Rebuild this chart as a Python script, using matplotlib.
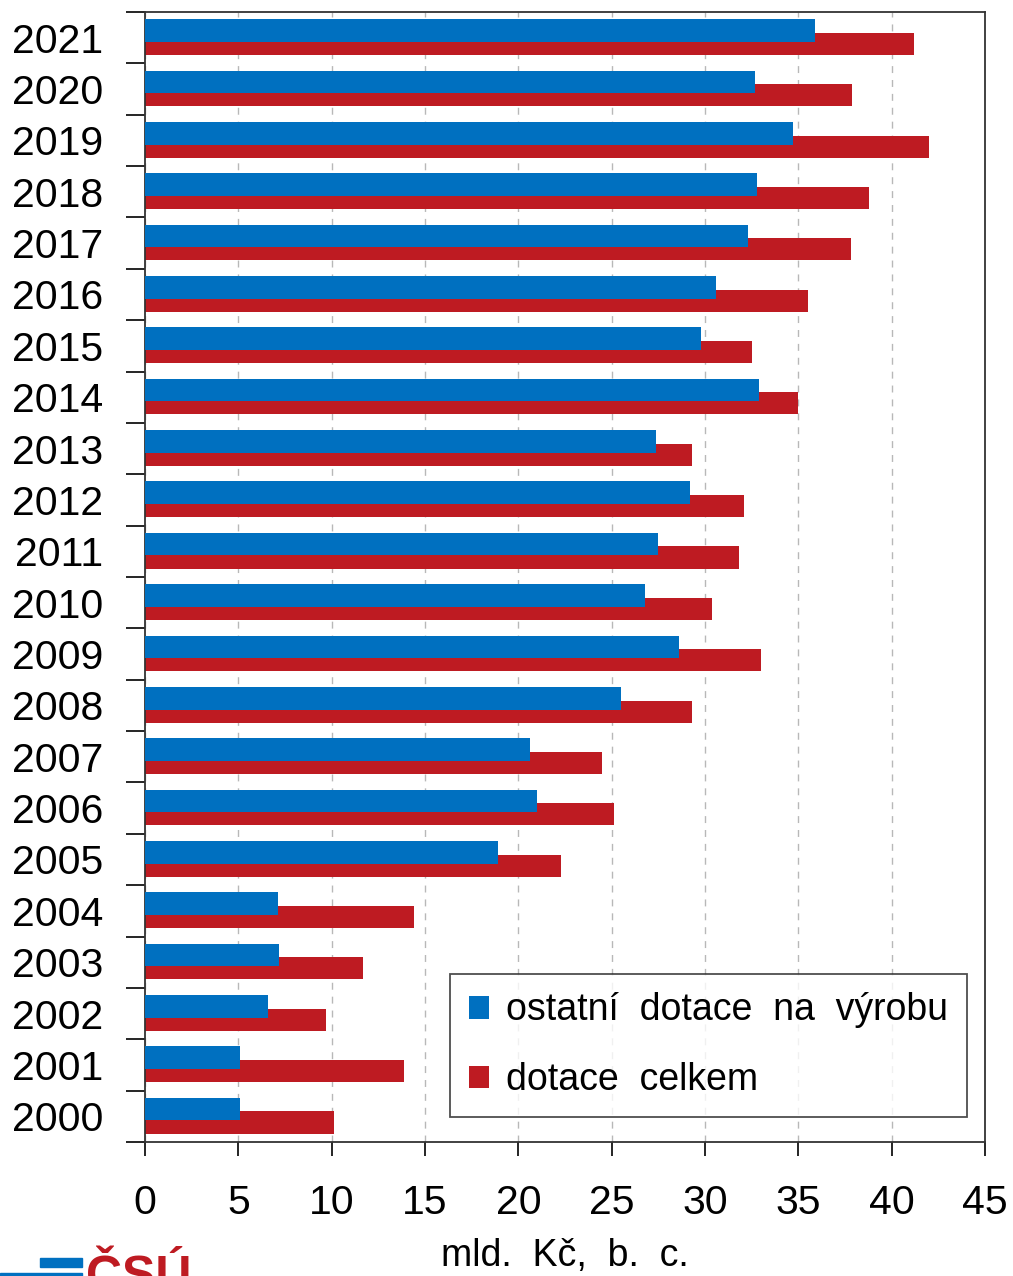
import numpy as np
import matplotlib.pyplot as plt
from matplotlib.patches import Rectangle

# Data (mld. Kč, b. c.)
years = list(range(2000, 2022))
ostatni = [5.1, 5.1, 6.6, 7.2, 7.1, 18.9, 21.0, 20.6, 25.5, 28.6, 26.8,
           27.5, 29.2, 27.4, 32.9, 29.8, 30.6, 32.3, 32.8, 34.7, 32.7, 35.9]
celkem = [10.1, 13.9, 9.7, 11.7, 14.4, 22.3, 25.1, 24.5, 29.3, 33.0, 30.4,
          31.8, 32.1, 29.3, 35.0, 32.5, 35.5, 37.8, 38.8, 42.0, 37.9, 41.2]
labels = ["ostatní  dotace  na  výrobu", "dotace  celkem"]

blue = "#0070c0"
red = "#be1b22"

plt.rcParams['font.family'] = ['Liberation Sans', 'DejaVu Sans']

fig = plt.figure(figsize=(10.13, 12.76), dpi=100)
ax = fig.add_axes([145 / 1013, 1 - 1142 / 1276, 840 / 1013, 1130 / 1276])

y = np.arange(len(years))
ax.barh(y - 0.12, celkem, height=0.43, color=red, label=labels[1], zorder=2)
ax.barh(y + 0.14, ostatni, height=0.44, color=blue, label=labels[0], zorder=3)

ax.set_xlim(0, 45)
ax.set_ylim(-0.5, len(years) - 0.5)
ax.set_xticks(np.arange(0, 46, 5))
ax.tick_params(axis='x', labelsize=29.5, length=10, width=1.2, direction='out', pad=20)

# year labels centred, tick marks between categories
ax.set_yticks(y)
ax.set_yticklabels([str(v) for v in years], fontsize=29.5)
ax.tick_params(axis='y', which='major', length=0, pad=30)
ax.set_yticks(np.arange(-0.5, len(years), 1), minor=True)
ax.tick_params(axis='y', which='minor', length=14, width=1.2, direction='out')

ax.grid(axis='x', color='#b8b8b8', linestyle=(0, (5, 5)), linewidth=1, zorder=0)
ax.set_axisbelow(True)
for s in ax.spines.values():
    s.set_linewidth(1.3)
    s.set_color('#333333')

ax.set_xlabel("mld.  Kč,  b.  c.", fontsize=27, labelpad=12)

handles, labs = ax.get_legend_handles_labels()
leg = ax.legend(handles[::-1], labs[::-1], loc='lower right',
                bbox_to_anchor=((967 - 145) / 840, (1142 - 1117) / 1130),
                bbox_transform=ax.transAxes,
                fontsize=27, frameon=True, fancybox=False, edgecolor='#222222',
                handlelength=0.55, handleheight=0.55, handletextpad=0.45,
                labelspacing=0.9, borderpad=0.5, borderaxespad=0)
leg.get_frame().set_linewidth(1.3)

# ČSÚ logo, cut by the figure edge
fig.patches.append(Rectangle((40 / 1013, 1 - 1267 / 1276), 42 / 1013, 9 / 1276,
                             transform=fig.transFigure, color=blue))
fig.patches.append(Rectangle((0, 0), 82 / 1013, 3 / 1276,
                             transform=fig.transFigure, color=blue))
fig.text(86 / 1013, -0.012, "ČSÚ", fontsize=36, fontweight='bold', color=red,
         ha='left', va='baseline')

fig.savefig("out.png", dpi=100)
